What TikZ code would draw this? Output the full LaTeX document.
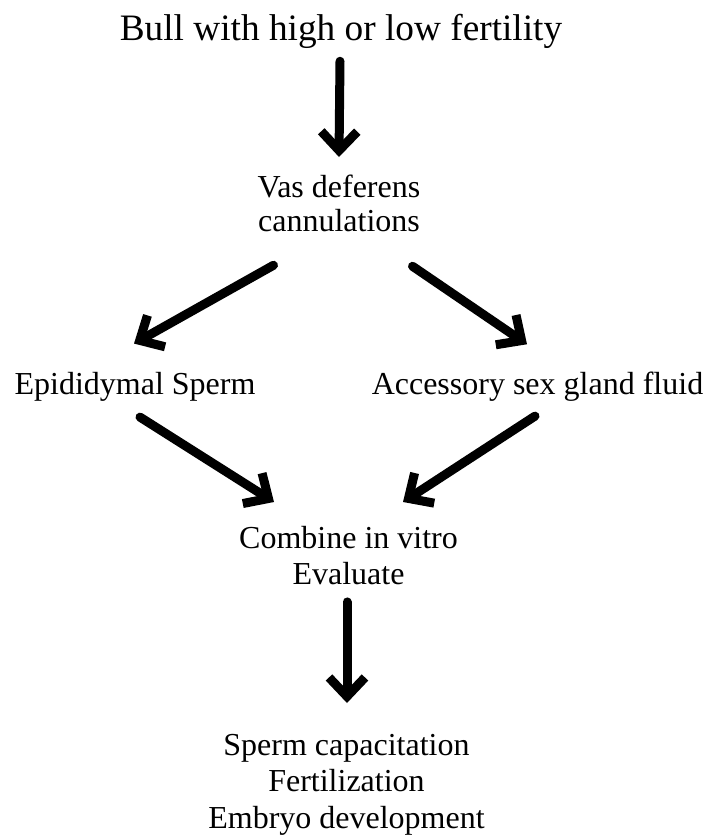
\documentclass[tikz,border=0pt]{standalone}
\usepackage{fontspec}
\setmainfont{Liberation Serif}
\usetikzlibrary{arrows.meta,calc}
\begin{document}
\begin{tikzpicture}[x=1pt, y=-1pt, line join=round, line cap=round,
    >={Straight Barb[length=19pt,width=36pt]},
    lbl/.style={inner sep=0pt, align=center, font=\fontsize{32}{36}\selectfont},
    arr/.style={->, line width=9pt}]
  \useasboundingbox (0,0) rectangle (707,836);
  % labels
  \node[lbl, anchor=base, font=\fontsize{37.3}{42}\selectfont] (bull) at (341,40) {Bull with high or low fertility};
  \node[lbl, anchor=north, font=\fontsize{32}{34}\selectfont] (vas) at (339,175) {Vas deferens\\cannulations};
  \node[lbl, anchor=base] (epi) at (135,394) {Epididymal Sperm};
  \node[lbl, anchor=base] (acc) at (537.5,394) {Accessory sex gland fluid};
  \node[lbl, anchor=north] (comb) at (348.5,526) {Combine in vitro\\Evaluate};
  \node[lbl, anchor=north, font=\fontsize{32}{36.5}\selectfont] (res) at (346.5,734) {Sperm capacitation\\Fertilization\\Embryo development};
  % arrows
  \draw[arr] ($(bull.south)+(-1,13)$) -- ($(vas.north)+(0,-18)$);
  \draw[arr] ($(vas.south west)+(16,33)$) -- ($(epi.north)+(-1,-28)$);
  \draw[arr] ($(vas.south east)+(-8,34)$) -- ($(acc.north)+(-10.5,-27)$);
  \draw[arr] ($(epi.south)+(5,16)$) -- ($(comb.north)+(-74.5,-24)$);
  \draw[arr] ($(acc.south)+(-2.5,15)$) -- ($(comb.north)+(54.5,-24)$);
  \draw[arr] ($(comb.south)+(-1.5,17)$) -- ($(res.north)+(0.5,-31)$);
\end{tikzpicture}
\end{document}
